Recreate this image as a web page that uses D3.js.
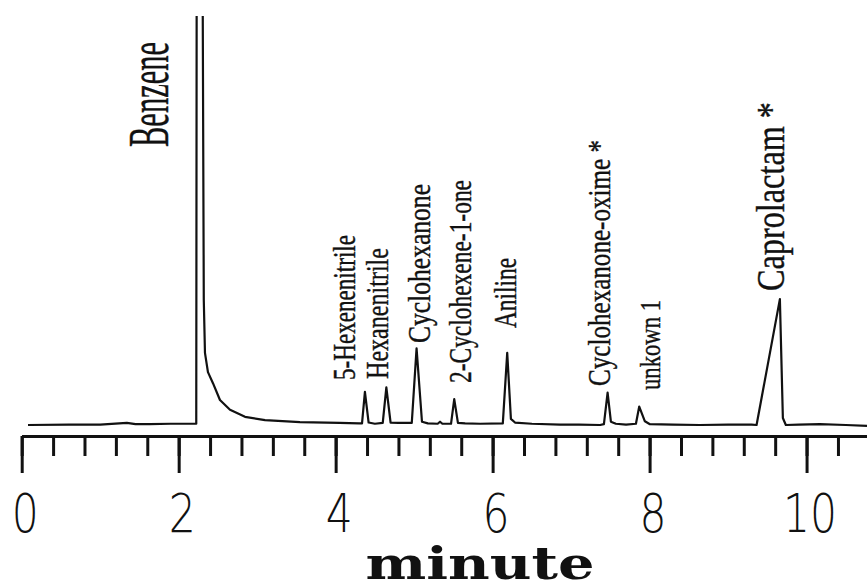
<!DOCTYPE html>
<html>
<head>
<meta charset="utf-8">
<script src="https://cdn.jsdelivr.net/npm/d3@7"></script>
<style>
  html, body { margin: 0; padding: 0; background: #fff; }
  svg { display: block; }
</style>
</head>
<body>
<div id="chart"></div>
<script>
// Chromatogram: retention time (minute) vs detector response (relative)

// trace
const traceTime = [
  0.08, 0.6, 1.0, 1.34, 1.45, 1.63, 1.9, 2.15, 2.224,
  2.2295, 2.27, 2.305,
  2.32, 2.335, 2.373, 2.437, 2.526, 2.654, 2.845, 3.10, 3.545, 4.05, 4.30,
  4.336, 4.373, 4.42, 4.50, 4.60, 4.646, 4.70, 4.80, 4.97, 5.031, 5.10, 5.175,
  5.30, 5.33, 5.36, 5.47, 5.511, 5.558, 5.65, 5.84, 6.13, 6.186, 6.233, 6.285,
  6.50, 6.86, 7.10, 7.37, 7.418, 7.465, 7.507, 7.57, 7.70, 7.826, 7.868, 7.94,
  8.004, 8.30, 8.64, 9.00, 9.30, 9.363, 9.66, 9.698, 9.736, 9.90, 10.17, 10.50, 10.77
];
const traceSignal = [
  0, 0.1, 0.1, 0.5, 0.2, 0.2, 0.3, 0.3, 0.3,
  110, 220, 110,
  30.5, 17.6, 12.9, 10.2, 6.1, 3.7, 2.0, 1.2, 0.7, 0.5, 0.4,
  0.4, 8.1, 0.6, 0.3, 0.5, 9.2, 0.6, 0.5, 0.5, 18.7, 0.8, 0.4,
  0.3, 0.8, 0.3, 0.3, 6.3, 0.5, 0.4, 0.3, 0.4, 17.6, 1.5, 0.6,
  0.3, 0.1, 0.1, 0, 0.2, 7.9, 0.8, 0.3, 0.1, 0.3, 4.5, 0.9,
  0.2, 0.1, 0, 0.1, 0.1, 0, 30.7, 1.7, 0, 0.1, 0.2, 0, -0.2
];

// peak annotations
const peakNames = [
  "Benzene", "5-Hexenenitrile", "Hexanenitrile", "Cyclohexanone",
  "2-Cyclohexene-1-one", "Aniline", "Cyclohexanone-oxime *", "unkown 1", "Caprolactam *"
];
const peakTimes = [2.27, 4.373, 4.646, 5.031, 5.511, 6.186, 7.465, 7.868, 9.66];

// axis
const majorTicks = [0, 2, 4, 6, 8, 10];
const minorTicks = d3.range(0, 27).map(i => +(i * 0.4).toFixed(1));
const axisTitle = "minute";

// label layout (px): offset of the baseline from the peak, bottom end, font size, length
const labelLayout = [
  { dx: -32, bottom: 147, size: 56, len: 105 },
  { dx: -10, bottom: 380, size: 31, len: 145 },
  { dx: 2,   bottom: 379, size: 31, len: 131 },
  { dx: 13,  bottom: 343, size: 31, len: 159 },
  { dx: 17,  bottom: 383, size: 31, len: 203 },
  { dx: 9,   bottom: 328, size: 31, len: 70 },
  { dx: 2,   bottom: 386, size: 31, len: 246 },
  { dx: 21,  bottom: 390, size: 30, len: 90 },
  { dx: 4,   bottom: 291, size: 39, len: 189 }
];

const width = 867, height = 581;
const axisY = 436;

const x = d3.scaleLinear().domain([0, 10.77]).range([21.7, 867]);
const y = d3.scaleLinear().domain([0, 100]).range([425, 15]);

const svg = d3.select("#chart").append("svg")
  .attr("width", width)
  .attr("height", height);

svg.append("defs").append("clipPath")
  .attr("id", "plot-clip")
  .append("rect")
  .attr("x", 0).attr("y", 16)
  .attr("width", width).attr("height", axisY - 16);

// trace
const points = traceTime.map((t, i) => [t, traceSignal[i]]);
const line = d3.line()
  .x(d => x(d[0]))
  .y(d => y(d[1]));

svg.append("path")
  .datum(points)
  .attr("clip-path", "url(#plot-clip)")
  .attr("fill", "none")
  .attr("stroke", "#111")
  .attr("stroke-width", 2.2)
  .attr("stroke-linejoin", "round")
  .attr("d", line);

// peak labels (vertical text)
const labels = svg.append("g").attr("class", "peak-labels");
peakNames.forEach((name, i) => {
  const l = labelLayout[i];
  labels.append("text")
    .attr("transform", `translate(${x(peakTimes[i]) + l.dx},${l.bottom}) rotate(-90)`)
    .attr("font-family", "'Liberation Serif', 'Times New Roman', serif")
    .attr("font-size", l.size)
    .attr("fill", "#111")
    .attr("stroke", "#111")
    .attr("stroke-width", 0.4)
    .attr("textLength", l.len)
    .attr("lengthAdjust", "spacingAndGlyphs")
    .text(name);
});

// axis: minor ticks first, then major ticks with labels
const minorAxis = d3.axisBottom(x)
  .tickValues(minorTicks)
  .tickSize(20)
  .tickSizeOuter(0)
  .tickFormat("");

const majorAxis = d3.axisBottom(x)
  .tickValues(majorTicks)
  .tickSize(37)
  .tickSizeOuter(0)
  .tickFormat(d3.format("d"));

const gMinor = svg.append("g")
  .attr("transform", `translate(0,${axisY})`)
  .call(minorAxis);

const gMajor = svg.append("g")
  .attr("transform", `translate(0,${axisY})`)
  .call(majorAxis);

[gMinor, gMajor].forEach(g => {
  g.select(".domain").attr("stroke", "#111").attr("stroke-width", 3.2);
  g.selectAll(".tick line").attr("stroke", "#111").attr("stroke-width", 3);
});

gMajor.selectAll(".tick text")
  .attr("y", 96)
  .attr("dy", 0)
  .attr("dx", 3)
  .attr("fill", "#111")
  .attr("font-family", "'DejaVu Sans', 'Liberation Sans', sans-serif")
  .attr("font-weight", 200)
  .attr("font-size", 54)
  .attr("textLength", d => String(d).length * 27)
  .attr("lengthAdjust", "spacingAndGlyphs");

svg.append("text")
  .attr("x", 480)
  .attr("y", 579)
  .attr("text-anchor", "middle")
  .attr("font-family", "'DejaVu Serif', 'Liberation Serif', serif")
  .attr("font-weight", "bold")
  .attr("font-size", 44)
  .attr("fill", "#111")
  .attr("textLength", 229)
  .attr("lengthAdjust", "spacingAndGlyphs")
  .text(axisTitle);
</script>
</body>
</html>
